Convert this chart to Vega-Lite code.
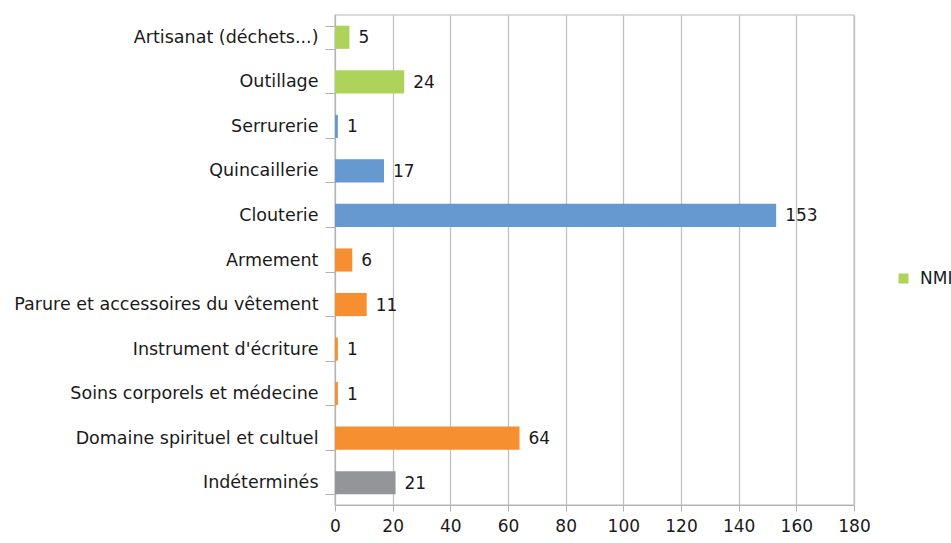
{
  "$schema": "https://vega.github.io/schema/vega-lite/v6.json",
  "width": 519,
  "height": 490,
  "autosize": "none",
  "padding": {"left": 335, "top": 15, "right": 97, "bottom": 38},
  "background": "white",
  "config": {
    "font": "DejaVu Sans",
    "view": {"stroke": "#d0d0d0", "strokeWidth": 1.5}
  },
  "data": {
    "values": [
      {"cat": "Artisanat (déchets...)", "n": 5, "grp": "NMI"},
      {"cat": "Outillage", "n": 24, "grp": "NMI"},
      {"cat": "Serrurerie", "n": 1, "grp": "Fer"},
      {"cat": "Quincaillerie", "n": 17, "grp": "Fer"},
      {"cat": "Clouterie", "n": 153, "grp": "Fer"},
      {"cat": "Armement", "n": 6, "grp": "Autre"},
      {"cat": "Parure et accessoires du vêtement", "n": 11, "grp": "Autre"},
      {"cat": "Instrument d'écriture", "n": 1, "grp": "Autre"},
      {"cat": "Soins corporels et médecine", "n": 1, "grp": "Autre"},
      {"cat": "Domaine spirituel et cultuel", "n": 64, "grp": "Autre"},
      {"cat": "Indéterminés", "n": 21, "grp": "Indet"}
    ]
  },
  "encoding": {
    "y": {
      "field": "cat",
      "type": "nominal",
      "sort": null,
      "scale": {"paddingInner": 0.48, "paddingOuter": 0.24},
      "axis": {
        "title": null,
        "tickBand": "extent",
        "tickSize": 10,
        "tickColor": "#b3b3b3",
        "domainColor": "#b3b3b3",
        "labelPadding": 7,
        "labelFontSize": 17.5,
        "labelColor": "#1a1a1a",
        "labelFont": "DejaVu Sans",
        "labelLimit": 400
      }
    },
    "x": {
      "field": "n",
      "type": "quantitative",
      "scale": {"domain": [0, 180], "nice": false},
      "axis": {
        "title": null,
        "values": [0, 20, 40, 60, 80, 100, 120, 140, 160, 180],
        "labelFlush": false,
        "labelOverlap": false,
        "gridColor": "#c0c0c0",
        "gridWidth": 1.3,
        "tickColor": "#b3b3b3",
        "domainColor": "#b3b3b3",
        "tickSize": 6,
        "labelPadding": 7,
        "labelFontSize": 17,
        "labelColor": "#1a1a1a"
      }
    }
  },
  "layer": [
    {
      "mark": {"type": "bar"},
      "encoding": {
        "color": {
          "field": "grp",
          "type": "nominal",
          "scale": {
            "domain": ["NMI", "Fer", "Autre", "Indet"],
            "range": ["#afd35a", "#6799d1", "#f58f2f", "#939598"]
          },
          "legend": {
            "values": ["NMI"],
            "title": null,
            "orient": "none",
            "legendX": 560,
            "legendY": 255,
            "symbolType": "square",
            "symbolSize": 100,
            "symbolOpacity": 1,
            "labelFontSize": 17,
            "labelOffset": 8,
            "labelColor": "#1a1a1a"
          }
        }
      }
    },
    {
      "mark": {"type": "text", "align": "left", "dx": 9, "dy": 1, "fontSize": 17, "color": "#1a1a1a"},
      "encoding": {"text": {"field": "n", "type": "quantitative"}}
    }
  ]
}
